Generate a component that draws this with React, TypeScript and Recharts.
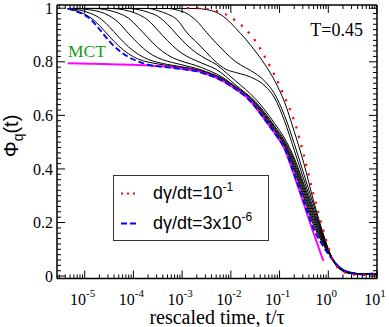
import { LineChart, Line, XAxis, YAxis, Legend, Customized } from "recharts";

// ---------------------------------------------------------------------------
// Data: Phi_q(t) against rescaled time t/tau, T = 0.45
// ---------------------------------------------------------------------------

const tGrid = [
  4.5e-6, 7.9e-6, 1.26e-5, 2.0e-5, 3.16e-5, 5.0e-5, 7.9e-5, 1.26e-4, 2.0e-4, 3.16e-4,
  5.0e-4, 7.9e-4, 1.26e-3, 2.0e-3, 3.16e-3, 5.0e-3, 7.9e-3, 0.0126, 0.02, 0.0316,
  0.05, 0.079, 0.126, 0.2, 0.316, 0.5, 0.79, 1.26, 2.0, 3.16, 5.0, 7.9, 10,
];

// MCT fit (magenta)
const mct = [
  0.795, 0.794, 0.793, 0.792, 0.791, 0.79, 0.789, 0.788, 0.786, 0.784,
  0.781, 0.777, 0.772, 0.766, 0.754, 0.741, 0.722, 0.698, 0.672, 0.632,
  0.583, 0.534, 0.476, 0.375, 0.268, 0.16, 0.057, null, null, null, null, null, null,
];

// dγ/dt = 3x10^-6 (blue dashed)
const rateSlow = [
  0.998, 0.983, 0.962, 0.922, 0.878, 0.843, 0.818, 0.801, 0.789, 0.783,
  0.779, 0.775, 0.77, 0.764, 0.753, 0.74, 0.721, 0.697, 0.67, 0.632,
  0.584, 0.534, 0.477, 0.38, 0.276, 0.176, 0.11, 0.058, 0.024, 0.01, 0.006, 0.009, 0.008,
];

// dγ/dt = 10^-1 (red dotted)
const rateFast = [
  null, null, null, null, null, null, null, null, null, null,
  null, null, 1.0, 1.0, 0.998, 0.99, 0.977, 0.953, 0.922, 0.878,
  0.818, 0.75, 0.67, 0.58, 0.45, 0.303, 0.172, 0.057, 0.017, 0.006, 0.004, 0.006, 0.005,
];

// intermediate shear rates (black)
const rate1 = [
  0.997, 0.986, 0.967, 0.936, 0.896, 0.859, 0.83, 0.81, 0.799, 0.792,
  0.786, 0.781, 0.776, 0.769, 0.758, 0.745, 0.726, 0.7, 0.672, 0.637,
  0.59, 0.54, 0.483, 0.394, 0.291, 0.19, 0.118, 0.06, 0.025, 0.012, 0.007, 0.009, 0.008,
];
const rate2 = [
  0.998, 0.993, 0.982, 0.964, 0.932, 0.892, 0.856, 0.828, 0.809, 0.798,
  0.79, 0.784, 0.778, 0.771, 0.76, 0.747, 0.728, 0.703, 0.675, 0.641,
  0.595, 0.545, 0.489, 0.404, 0.301, 0.2, 0.122, 0.06, 0.024, 0.011, 0.008, 0.007, 0.009,
];
const rate3 = [
  0.999, 0.998, 0.994, 0.987, 0.972, 0.946, 0.906, 0.868, 0.836, 0.815,
  0.802, 0.793, 0.784, 0.775, 0.763, 0.749, 0.73, 0.705, 0.678, 0.645,
  0.6, 0.55, 0.494, 0.413, 0.312, 0.21, 0.127, 0.061, 0.024, 0.012, 0.008, 0.01, 0.007,
];
const rate4 = [
  0.999, 0.999, 0.999, 0.998, 0.992, 0.981, 0.963, 0.928, 0.889, 0.853,
  0.826, 0.808, 0.796, 0.785, 0.771, 0.755, 0.734, 0.707, 0.681, 0.648,
  0.605, 0.555, 0.5, 0.422, 0.322, 0.22, 0.132, 0.062, 0.023, 0.013, 0.008, 0.008, 0.01,
];
const rate5 = [
  0.999, 0.999, 0.999, 0.999, 0.999, 0.997, 0.99, 0.977, 0.955, 0.918,
  0.879, 0.845, 0.82, 0.803, 0.788, 0.772, 0.745, 0.713, 0.684, 0.652,
  0.61, 0.56, 0.506, 0.432, 0.333, 0.23, 0.137, 0.062, 0.022, 0.011, 0.009, 0.009, 0.007,
];
const rate6 = [
  0.999, 0.999, 0.999, 0.999, 0.999, 0.999, 0.999, 0.995, 0.985, 0.97,
  0.94, 0.9, 0.862, 0.832, 0.81, 0.79, 0.76, 0.728, 0.697, 0.662,
  0.62, 0.57, 0.515, 0.441, 0.343, 0.24, 0.142, 0.061, 0.021, 0.01, 0.008, 0.01, 0.009,
];
const rate7 = [
  0.999, 0.999, 0.999, 0.999, 0.999, 0.999, 0.999, 0.999, 0.999, 0.991,
  0.978, 0.957, 0.908, 0.872, 0.835, 0.798, 0.772, 0.76, 0.75, 0.735,
  0.71, 0.665, 0.58, 0.47, 0.36, 0.25, 0.148, 0.06, 0.02, 0.01, 0.007, 0.009, 0.008,
];
const rate8 = [
  0.999, 0.999, 0.999, 0.999, 0.999, 0.999, 0.999, 0.999, 0.999, 0.999,
  0.999, 0.993, 0.98, 0.952, 0.91, 0.87, 0.833, 0.8, 0.778, 0.757,
  0.727, 0.68, 0.6, 0.495, 0.38, 0.265, 0.152, 0.058, 0.019, 0.009, 0.008, 0.008, 0.01,
];
const rate9 = [
  0.999, 0.999, 0.999, 0.999, 0.999, 0.999, 0.999, 0.999, 0.999, 0.999,
  0.999, 0.999, 0.999, 0.999, 0.995, 0.985, 0.962, 0.925, 0.885, 0.84,
  0.79, 0.73, 0.65, 0.54, 0.42, 0.28, 0.158, 0.056, 0.018, 0.008, 0.006, 0.008, 0.007,
];

const blackSeries = [rate1, rate2, rate3, rate4, rate5, rate6, rate7, rate8, rate9];

// axis ticks
const xDecades = [1e-5, 1e-4, 1e-3, 1e-2, 1e-1, 1, 10];
const xExponents = ["-5", "-4", "-3", "-2", "-1", "0", "1"];
const xMinorMultipliers = [2, 3, 4, 5, 6, 7, 8, 9];
const yMajor = [0, 0.2, 0.4, 0.6, 0.8, 1];
const yLabels = ["0", "0.2", "0.4", "0.6", "0.8", "1"];

// ---------------------------------------------------------------------------
// Layout
// ---------------------------------------------------------------------------

const X_DOMAIN: [number, number] = [2.7e-6, 10];
const Y_DOMAIN: [number, number] = [-0.009, 1.012];
const SERIF = '"Liberation Serif", "Times New Roman", serif';
const SANS = '"Liberation Sans", Arial, sans-serif';

const xMinor = [1e-6, ...xDecades]
  .flatMap((d) => xMinorMultipliers.map((m) => m * d))
  .filter((v) => v >= X_DOMAIN[0] && v <= X_DOMAIN[1]);
const xTicks = [...xDecades, ...xMinor].sort((a, b) => a - b);
const yTicks = Array.from({ length: 51 }, (_, i) => Math.round(i * 2) / 100);

const rows = tGrid.map((t, i) => {
  const row: Record<string, number | null> = {
    t,
    mct: mct[i],
    slow: rateSlow[i],
    fast: rateFast[i],
  };
  blackSeries.forEach((s, k) => {
    row[`r${k + 1}`] = s[i];
  });
  return row;
});

const decadeIndex = (v: number) => xDecades.findIndex((d) => Math.abs(v / d - 1) < 1e-6);
const yMajorIndex = (v: number) => yMajor.findIndex((m) => Math.abs(v - m) < 1e-6);

// ---------------------------------------------------------------------------
// Ticks (drawn inward, like the original plot)
// ---------------------------------------------------------------------------

const BottomTick = ({ x, y, payload }: any) => {
  const k = decadeIndex(payload.value);
  return (
    <g>
      <line x1={x} x2={x} y1={y} y2={y - (k >= 0 ? 8 : 4)} stroke="#000" />
      {k >= 0 && (
        <text x={x - 2} y={y + 26} textAnchor="middle" fontFamily={SERIF} fontSize={16} fill="#000">
          10
          <tspan dy={-8} fontSize={11}>
            {xExponents[k]}
          </tspan>
        </text>
      )}
    </g>
  );
};

const TopTick = ({ x, y, payload }: any) => {
  const major = decadeIndex(payload.value) >= 0;
  return <line x1={x} x2={x} y1={y} y2={y + (major ? 8 : 4)} stroke="#000" />;
};

const LeftTick = ({ x, y, payload }: any) => {
  const k = yMajorIndex(payload.value);
  return (
    <g>
      <line x1={x} x2={x + (k >= 0 ? 8 : 4)} y1={y} y2={y} stroke="#000" />
      {k >= 0 && (
        <text x={x - 4} y={y} dy="0.35em" textAnchor="end" fontFamily={SERIF} fontSize={16} fill="#000">
          {yLabels[k]}
        </text>
      )}
    </g>
  );
};

const RightTick = ({ x, y, payload }: any) => {
  const major = yMajorIndex(payload.value) >= 0;
  return <line x1={x} x2={x - (major ? 8 : 4)} y1={y} y2={y} stroke="#000" />;
};

// ---------------------------------------------------------------------------
// Legend box and annotations
// ---------------------------------------------------------------------------

const LegendBox = () => (
  <svg width={156} height={66} style={{ display: "block" }}>
    <rect x={0.5} y={0.5} width={155} height={65} fill="#fff" stroke="#333" />
    <line x1={8} x2={25} y1={18.5} y2={18.5} stroke="#ff0000" strokeWidth={2} strokeDasharray="2 4" />
    <text x={40} y={24} fontFamily={SANS} fontSize={18} fill="#000">
      dγ/dt=10
      <tspan dy={-8} fontSize={12}>
        -1
      </tspan>
    </text>
    <line x1={8} x2={25} y1={48.5} y2={48.5} stroke="#0000ff" strokeWidth={1.8} strokeDasharray="6 3" />
    <text x={40} y={54} fontFamily={SANS} fontSize={18} fill="#000">
      dγ/dt=3x10
      <tspan dy={-8} fontSize={12}>
        -6
      </tspan>
    </text>
  </svg>
);

const Annotations = () => (
  <g>
    <text x={363} y={36} textAnchor="end" fontFamily={SERIF} fontSize={18} fill="#000">
      T=0.45
    </text>
    <text x={68} y={56.5} fontFamily={SERIF} fontSize={17.5} fill="#1a9a1a">
      MCT
    </text>
    <text x={217} y={324} textAnchor="middle" fontFamily={SERIF} fontSize={20} fill="#000">
      rescaled time, t/τ
    </text>
    <text
      x={18}
      y={136}
      transform="rotate(-90 18 136)"
      textAnchor="middle"
      fontFamily={SANS}
      fontSize={20}
      fill="#000"
    >
      Φ
      <tspan dy={5} fontSize={14}>
        q
      </tspan>
      <tspan dy={-5}>(t)</tspan>
    </text>
  </g>
);

// ---------------------------------------------------------------------------
// Chart
// ---------------------------------------------------------------------------

export default function App() {
  const frame = { stroke: "#000", strokeWidth: 1.5 };
  return (
    <div style={{ position: "absolute", left: 0, top: 0, background: "#fff" }}>
      <LineChart
        width={389}
        height={327}
        data={rows}
        margin={{ top: 4, right: 11, bottom: 47.5, left: 56 }}
      >
        <XAxis
          dataKey="t"
          type="number"
          scale="log"
          domain={X_DOMAIN}
          allowDataOverflow
          ticks={xTicks}
          interval={0}
          height={1}
          tickSize={0}
          tickMargin={0}
          tickLine={false}
          axisLine={frame}
          tick={BottomTick}
        />
        <XAxis
          xAxisId="top"
          orientation="top"
          dataKey="t"
          type="number"
          scale="log"
          domain={X_DOMAIN}
          allowDataOverflow
          ticks={xTicks}
          interval={0}
          height={1}
          tickSize={0}
          tickMargin={0}
          tickLine={false}
          axisLine={frame}
          tick={TopTick}
        />
        <YAxis
          type="number"
          domain={Y_DOMAIN}
          allowDataOverflow
          ticks={yTicks}
          interval={0}
          width={1}
          tickSize={0}
          tickMargin={0}
          tickLine={false}
          axisLine={frame}
          tick={LeftTick}
        />
        <YAxis
          yAxisId="right"
          orientation="right"
          type="number"
          domain={Y_DOMAIN}
          allowDataOverflow
          ticks={yTicks}
          interval={0}
          width={1}
          tickSize={0}
          tickMargin={0}
          tickLine={false}
          axisLine={frame}
          tick={RightTick}
        />
        {blackSeries.map((_, k) => (
          <Line
            key={k}
            dataKey={`r${k + 1}`}
            type="monotone"
            stroke="#000"
            strokeWidth={1}
            dot={false}
            activeDot={false}
            isAnimationActive={false}
            legendType="none"
          />
        ))}
        <Line
          dataKey="mct"
          type="monotone"
          stroke="#ff00ff"
          strokeWidth={2}
          dot={false}
          activeDot={false}
          isAnimationActive={false}
        />
        <Line
          dataKey="slow"
          type="monotone"
          stroke="#0000ff"
          strokeWidth={1.8}
          strokeDasharray="6 3"
          dot={false}
          activeDot={false}
          isAnimationActive={false}
        />
        <Line
          dataKey="fast"
          type="monotone"
          stroke="#ff0000"
          strokeWidth={2.2}
          strokeDasharray="2.2 7.5"
          dot={false}
          activeDot={false}
          isAnimationActive={false}
        />
        <Legend
          layout="horizontal"
          align="center"
          verticalAlign="middle"
          width={156}
          height={66}
          wrapperStyle={{ left: 113, top: 175, width: 156, height: 66 }}
          content={() => <LegendBox />}
        />
        <Customized component={Annotations} />
      </LineChart>
    </div>
  );
}
